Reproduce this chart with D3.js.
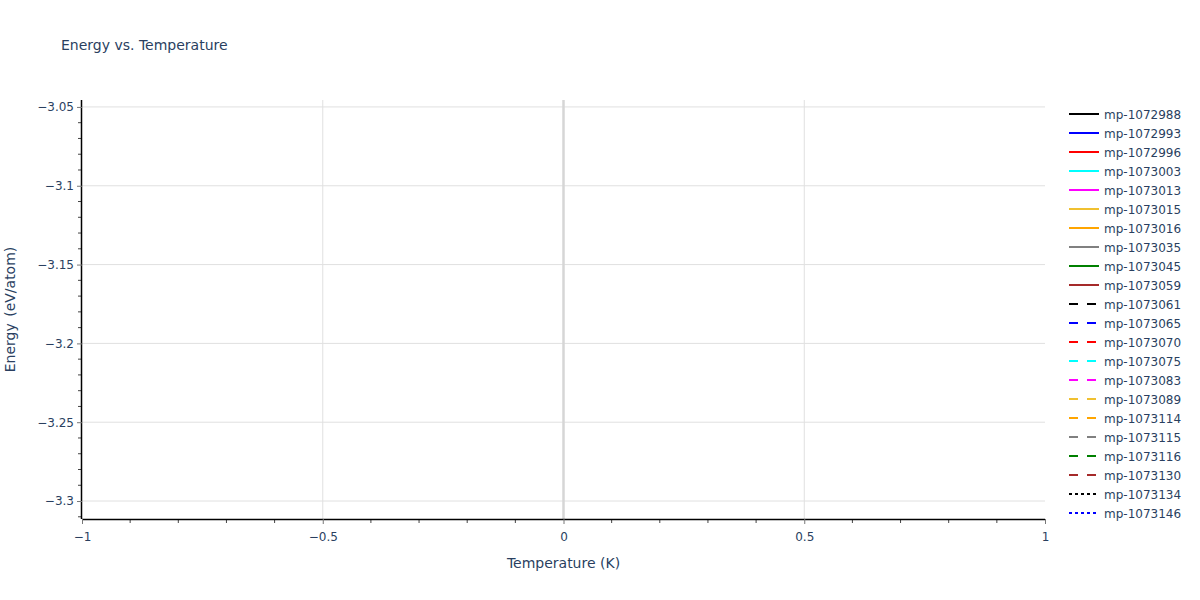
<!DOCTYPE html>
<html><head><meta charset="utf-8">
<script src="https://cdn.jsdelivr.net/npm/d3@7"></script>
<style>body{margin:0;background:#fff}svg{display:block}text{font-family:"DejaVu Sans",verdana,sans-serif}</style>
</head><body><svg id="c" width="1200" height="600"></svg>
<script>
const title = "Energy vs. Temperature";
const xLabel = "Temperature (K)";
const yLabel = "Energy (eV/atom)";
const xDomain = [-1, 1];
const yDomain = [-3.3114, -3.0456];
const xTicks = [-1, -0.5, 0, 0.5, 1];
const yTicks = [-3.3, -3.25, -3.2, -3.15, -3.1, -3.05];
const seriesNames = ["mp-1072988","mp-1072993","mp-1072996","mp-1073003","mp-1073013","mp-1073015","mp-1073016","mp-1073035","mp-1073045","mp-1073059","mp-1073061","mp-1073065","mp-1073070","mp-1073075","mp-1073083","mp-1073089","mp-1073114","mp-1073115","mp-1073116","mp-1073130","mp-1073134","mp-1073146"];
const seriesColors = ["#000000","#0000ff","#ff0000","#00ffff","#ff00ff","#f0c030","#ffa500","#808080","#008000","#a52a2a","#000000","#0000ff","#ff0000","#00ffff","#ff00ff","#f0c030","#ffa500","#808080","#008000","#a52a2a","#000000","#0000ff"];
const seriesDash = ["solid","solid","solid","solid","solid","solid","solid","solid","solid","solid","dash","dash","dash","dash","dash","dash","dash","dash","dash","dash","dot","dot"];
const seriesValues = seriesNames.map(() => []); // no data points in the reference

const svg = d3.select("#c");
const m = {l: 82, r: 155, t: 100, b: 81};
const W = 1200, H = 600;
const x = d3.scaleLinear().domain(xDomain).range([m.l, W - m.r]);
const y = d3.scaleLinear().domain(yDomain).range([H - m.b, m.t]);
const txt = "#2a3f5f";
const font = '"DejaVu Sans",verdana,sans-serif';

// grid
const g = svg.append("g");
g.selectAll("line.gx").data(xTicks.filter(t => t !== 0 && t !== xDomain[0] && t !== xDomain[1])).join("line")
  .attr("x1", d => x(d)).attr("x2", d => x(d)).attr("y1", m.t).attr("y2", H - m.b)
  .attr("stroke", "#e0e0e0").attr("stroke-width", 1);
g.selectAll("line.gy").data(yTicks).join("line")
  .attr("x1", m.l).attr("x2", W - m.r).attr("y1", d => y(d)).attr("y2", d => y(d))
  .attr("stroke", "#e0e0e0").attr("stroke-width", 1);
// zero line
g.append("line").attr("x1", x(0)).attr("x2", x(0)).attr("y1", m.t).attr("y2", H - m.b)
  .attr("stroke", "#d6d6d6").attr("stroke-width", 2.5);

// series (empty)
const line = d3.line().x(d => x(d[0])).y(d => y(d[1]));
svg.append("g").selectAll("path").data(seriesValues).join("path")
  .attr("d", d => d.length ? line(d) : null).attr("fill", "none")
  .attr("stroke", (d, i) => seriesColors[i]).attr("stroke-width", 2);

// minor ticks
const xMinor = d3.range(-10, 11).map(v => v / 10).filter(v => !xTicks.some(t => Math.abs(t - v) < 1e-9));
svg.append("g").selectAll("line").data(xMinor).join("line")
  .attr("x1", d => x(d)).attr("x2", d => x(d)).attr("y1", H - m.b).attr("y2", H - m.b + 4)
  .attr("stroke", "#444").attr("stroke-width", 1);
const yMinor = d3.range(-331, -304).map(v => v / 100).filter(v => v >= yDomain[0] && v <= yDomain[1] && !yTicks.some(t => Math.abs(t - v) < 1e-9));
svg.append("g").selectAll("line").data(yMinor).join("line")
  .attr("x1", m.l - 4).attr("x2", m.l).attr("y1", d => y(d)).attr("y2", d => y(d))
  .attr("stroke", "#444").attr("stroke-width", 1);

const fmt = v => String(v).replace("-", "\u2212");
// axes
const xAxis = d3.axisBottom(x).tickValues(xTicks).tickSize(5).tickPadding(8).tickFormat(fmt);
const xg = svg.append("g").attr("transform", `translate(0,${H - m.b})`).call(xAxis);
const yAxis = d3.axisLeft(y).tickValues(yTicks).tickSize(5).tickPadding(3).tickFormat(fmt);
const yg = svg.append("g").attr("transform", `translate(${m.l},0)`).call(yAxis);
[xg, yg].forEach(a => {
  a.select(".domain").attr("stroke", "#000").attr("stroke-width", 1.5);
  a.selectAll(".tick line").attr("stroke", "#777").attr("stroke-width", 1);
  a.selectAll(".tick text").attr("fill", txt).style("font-size", "12px").style("font-family", font);
});
xg.select(".domain").attr("d", `M${m.l},0.5H${W - m.r}`);
yg.select(".domain").attr("d", `M-0.5,${m.t}V${H - m.b}`);

// titles
svg.append("text").attr("x", 61).attr("y", 50).attr("fill", txt).style("font-size", "14px").text(title);
svg.append("text").attr("x", x(0)).attr("y", 568).attr("text-anchor", "middle").attr("fill", txt).style("font-size", "14px").text(xLabel);
svg.append("text").attr("transform", `translate(15,${(m.t + H - m.b) / 2}) rotate(-90)`).attr("text-anchor", "middle").attr("fill", txt).style("font-size", "14px").style("word-spacing", "2px").text(yLabel);

// legend
const dashMap = {solid: null, dash: "9,9", dot: "3,3"};
const lg = svg.append("g").attr("transform", "translate(1069,114)");
const items = lg.selectAll("g").data(seriesNames).join("g").attr("transform", (d, i) => `translate(0,${i * 19})`);
items.append("line").attr("x1", 0).attr("x2", 30).attr("y1", 0).attr("y2", 0)
  .attr("stroke", (d, i) => seriesColors[i]).attr("stroke-width", 2)
  .attr("stroke-dasharray", (d, i) => dashMap[seriesDash[i]]);
items.append("text").attr("x", 35).attr("y", 4.5).attr("fill", txt).style("font-size", "12px").text(d => d);
</script></body></html>
